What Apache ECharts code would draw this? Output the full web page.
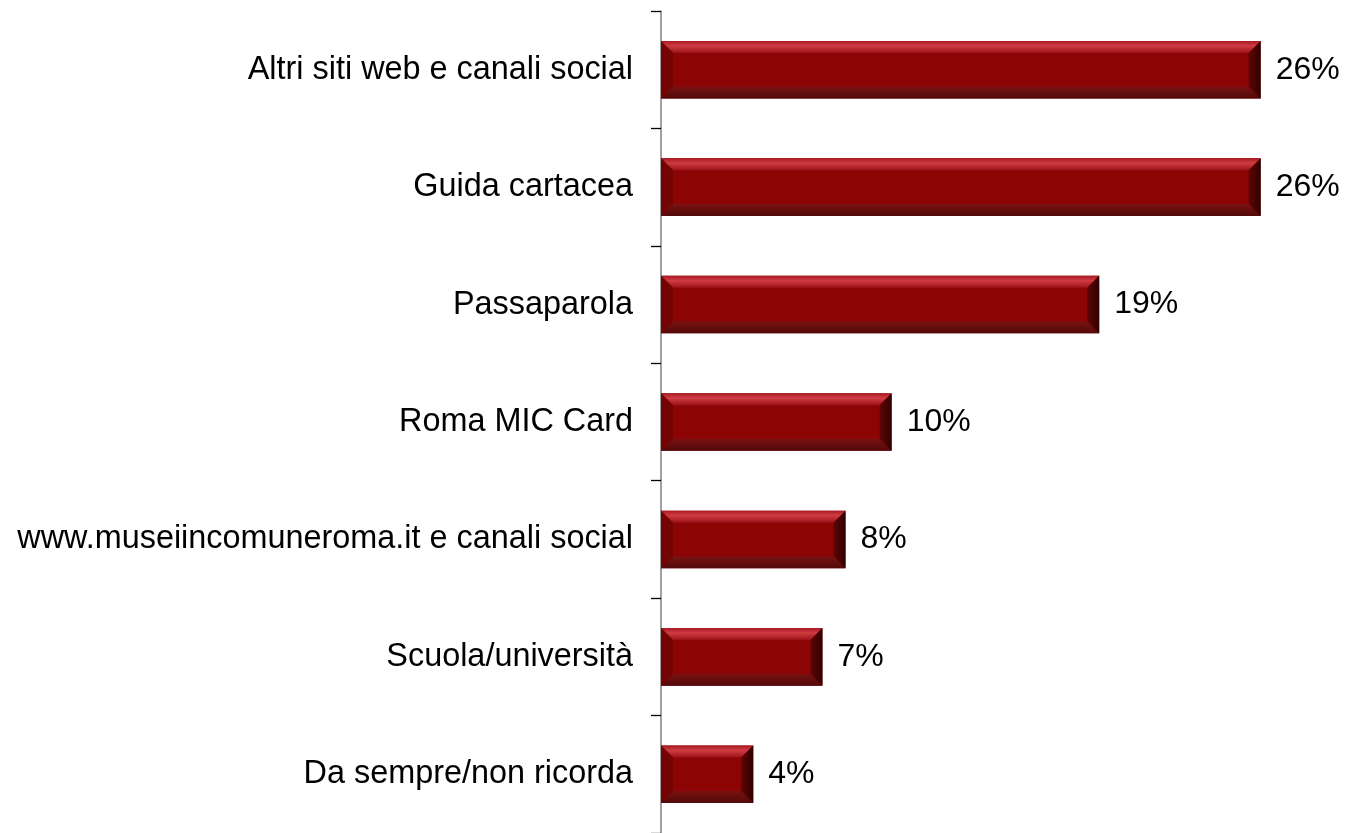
<!DOCTYPE html>
<html>
<head>
<meta charset="utf-8">
<script src="https://cdn.jsdelivr.net/npm/echarts@6/dist/echarts.min.js"></script>
<style>
  html, body { margin: 0; padding: 0; background: #fff; }
  #chart { width: 1346px; height: 833px; }
</style>
</head>
<body>
<div id="chart"></div>
<script>
// Canali attraverso cui i visitatori hanno conosciuto il museo (%)
const categories = [
  'Altri siti web e canali social',
  'Guida cartacea',
  'Passaparola',
  'Roma MIC Card',
  'www.museiincomuneroma.it e canali social',
  'Scuola/università',
  'Da sempre/non ricorda'
];
const shares = [26, 26, 19, 10, 8, 7, 4];

const FONT = '"Liberation Sans", Arial, sans-serif';
const BEVEL = 12;

// Bevelled bar: base face plus four sloped edges, then the value label
function renderBevelBar(params, api) {
  const v = api.value(0);
  const idx = api.value(1);
  const start = api.coord([0, idx]);
  const end = api.coord([v, idx]);
  const h = api.size([0, 1])[1] * 0.49;
  const x0 = start[0], x1 = end[0], cy = end[1];
  const yT = cy - h / 2, yB = cy + h / 2;
  const b = Math.min(BEVEL, (x1 - x0) / 2);
  const poly = (pts, fill) => ({ type: 'polygon', shape: { points: pts }, style: { fill: fill } });
  return {
    type: 'group',
    children: [
      { type: 'rect', shape: { x: x0, y: yT, width: x1 - x0, height: h }, style: { fill: '#8d0404' } },
      poly([[x0, yT], [x1, yT], [x1 - b, yT + b], [x0 + b, yT + b]],
        new echarts.graphic.LinearGradient(0, 0, 0, 1, [
          { offset: 0, color: '#a81a22' },
          { offset: 0.4, color: '#cf3c42' },
          { offset: 1, color: '#9c1218' }
        ])),
      poly([[x0, yB], [x1, yB], [x1 - b, yB - b], [x0 + b, yB - b]],
        new echarts.graphic.LinearGradient(0, 0, 0, 1, [
          { offset: 0, color: '#7a1212' },
          { offset: 1, color: '#520909' }
        ])),
      poly([[x0, yT], [x0 + b, yT + b], [x0 + b, yB - b], [x0, yB]], '#740303'),
      poly([[x1, yT], [x1 - b, yT + b], [x1 - b, yB - b], [x1, yB]],
        new echarts.graphic.LinearGradient(0, 0, 1, 0, [
          { offset: 0, color: '#5e0505' },
          { offset: 1, color: '#300000' }
        ])),
      {
        type: 'text',
        x: x1 + 15,
        y: cy,
        style: {
          text: v + '%',
          fill: '#000',
          font: '32px ' + FONT,
          verticalAlign: 'middle',
          align: 'left'
        }
      }
    ]
  };
}

const chart = echarts.init(document.getElementById('chart'), null, { renderer: 'canvas' });
chart.setOption({
  animation: false,
  backgroundColor: '#ffffff',
  grid: { left: 661, right: 0, top: 11, height: 826, containLabel: false },
  xAxis: {
    type: 'value',
    min: 0,
    max: 29.7,
    show: false
  },
  yAxis: {
    type: 'category',
    data: categories,
    inverse: true,
    axisLine: { show: true, lineStyle: { color: '#808080', width: 1.5 } },
    axisTick: { show: true, length: 10, lineStyle: { color: '#000', width: 1.3 } },
    axisLabel: { color: '#000', fontSize: 32.4, fontFamily: FONT, margin: 28 },
    splitLine: { show: false }
  },
  series: [{
    type: 'custom',
    renderItem: renderBevelBar,
    encode: { x: 0, y: 1 },
    data: shares.map((v, i) => [v, i])
  }]
});
</script>
</body>
</html>
